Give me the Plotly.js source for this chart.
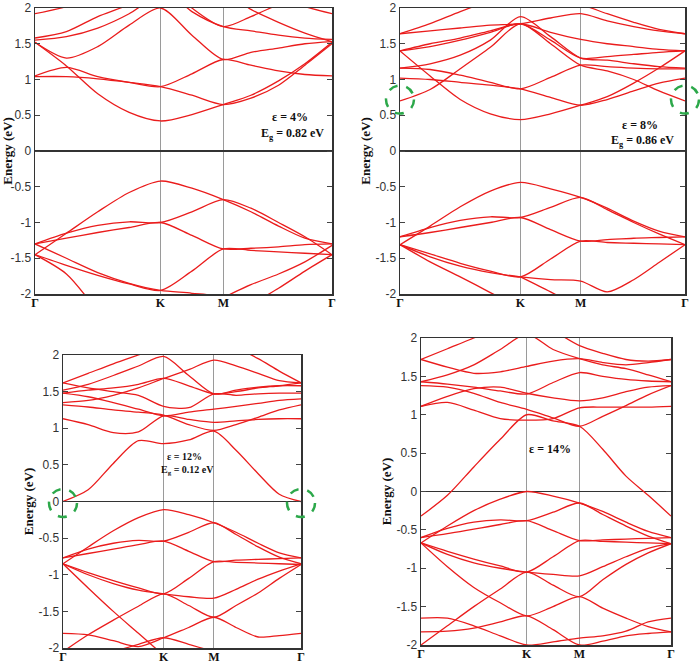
<!DOCTYPE html>
<html>
<head>
<meta charset="utf-8">
<script src="https://cdn.plot.ly/plotly-3.0.1.min.js"></script>
<style>html,body{margin:0;padding:0;background:#fff;}#plot{width:700px;height:666px;}</style>
</head>
<body>
<div id="plot"></div>
<script>
// k-path positions (Γ-K-M-Γ) of the sampled points
const kpath = [0, 0.25, 0.5, 0.75, 1, 1.25, 1.5, 1.72, 1.94, 2.15, 2.366];
const kTickVals = [0, 1, 1.5, 2.366];
const kTickText = ['Γ', 'K', 'M', 'Γ'];
const eTickVals = [-2, -1.5, -1, -0.5, 0, 0.5, 1, 1.5, 2];
const eTickText = ['-2', '-1.5', '-1', '-0.5', '0', '0.5', '1', '1.5', '2'];

// ε = 4 %
const cond4 = [
  [1.52, 1.19, 0.80, 0.54, 0.42, 0.51, 0.65, 0.78, 0.98, 1.22, 1.52],
  [1.04, 1.04, 1.01, 0.96, 0.90, 0.78, 0.65, 0.74, 0.92, 1.20, 1.50],
  [1.05, 1.17, 1.04, 0.96, 0.90, 1.08, 1.28, 1.20, 1.12, 1.07, 1.05],
  [1.52, 1.30, 1.46, 1.76, 2.00, 1.62, 1.28, 1.38, 1.44, 1.50, 1.53],
  [1.58, 1.67, 1.88, 2.05, 2.30, 1.95, 1.74, 1.68, 1.62, 1.58, 1.56],
  [1.55, 1.60, 1.72, 1.92, 2.20, 2.30, 2.25, 1.98, 1.80, 1.65, 1.53],
  [1.92, 2.02, 2.20, 2.40, 2.50, 2.30, 2.20, 2.25, 2.15, 2.02, 1.92],
  [2.40, 2.40, 2.50, 2.50, 2.40, 2.00, 1.74, 1.88, 2.05, 2.20, 2.30]
];
const val4 = [
  [-1.45, -1.15, -0.85, -0.58, -0.42, -0.52, -0.68, -0.85, -1.05, -1.22, -1.30],
  [-1.30, -1.15, -1.04, -0.99, -1.00, -0.85, -0.68, -0.80, -1.00, -1.20, -1.45],
  [-1.30, -1.22, -1.14, -1.07, -1.00, -1.18, -1.37, -1.36, -1.34, -1.31, -1.30],
  [-1.45, -1.60, -1.74, -1.86, -1.95, -1.68, -1.37, -1.39, -1.41, -1.43, -1.45],
  [-1.30, -1.50, -1.70, -1.85, -1.95, -1.99, -2.05, -2.30, -2.50, -2.50, -2.50],
  [-1.45, -1.72, -2.25, null, null, null, -2.05, -1.87, -1.72, -1.55, -1.32],
  [null, null, null, null, null, null, -2.40, -2.15, -1.92, -1.68, -1.45]
];

// ε = 8 %
const cond8 = [
  [1.40, 1.05, 0.72, 0.52, 0.44, 0.52, 0.64, 0.76, 0.95, 1.16, 1.40],
  [0.70, 0.86, 1.15, 1.45, 1.78, 1.50, 1.20, 1.12, 1.00, 0.84, 0.70],
  [1.02, 1.00, 0.96, 0.92, 0.87, 0.75, 0.64, 0.72, 0.84, 0.95, 1.02],
  [1.16, 1.14, 1.06, 0.96, 0.87, 1.03, 1.20, 1.18, 1.16, 1.15, 1.15],
  [1.40, 1.50, 1.58, 1.68, 1.78, 1.66, 1.56, 1.50, 1.46, 1.42, 1.40],
  [1.64, 1.68, 1.72, 1.76, 1.78, 1.86, 1.92, 1.82, 1.74, 1.68, 1.64],
  [1.64, 1.78, 1.95, 2.10, 2.20, 2.15, 2.05, 1.92, 1.80, 1.70, 1.64],
  [1.40, 1.46, 1.55, 1.66, 1.78, 1.55, 1.30, 1.32, 1.35, 1.38, 1.40],
  [1.16, 1.22, 1.34, 1.55, 1.88, 1.60, 1.30, 1.27, 1.22, 1.18, 1.16]
];
const val8 = [
  [-1.31, -1.05, -0.78, -0.56, -0.44, -0.53, -0.65, -0.80, -0.98, -1.12, -1.20],
  [-1.20, -1.07, -0.97, -0.92, -0.93, -0.79, -0.65, -0.82, -1.00, -1.16, -1.31],
  [-1.20, -1.14, -1.07, -1.00, -0.93, -1.10, -1.26, -1.24, -1.22, -1.21, -1.20],
  [-1.31, -1.44, -1.57, -1.68, -1.76, -1.51, -1.26, -1.28, -1.29, -1.30, -1.31],
  [-1.31, -1.48, -1.61, -1.70, -1.76, -1.80, -1.82, -1.97, -1.80, -1.56, -1.31],
  [-1.31, -1.55, -1.76, -1.98, -2.20, null, null, null, null, null, null],
  [null, null, null, null, -1.76, -1.97, -2.20, null, null, null, null]
];

// ε = 12 %
const cond12 = [
  [0.00, 0.16, 0.52, 0.83, 0.79, 0.84, 0.96, 0.70, 0.38, 0.10, 0.00],
  [1.13, 1.05, 0.94, 0.95, 1.17, 1.12, 1.08, 1.10, 1.12, 1.13, 1.13],
  [1.32, 1.29, 1.25, 1.22, 1.18, 1.05, 0.97, 1.05, 1.15, 1.25, 1.32],
  [1.48, 1.43, 1.35, 1.26, 1.17, 1.22, 1.26, 1.30, 1.34, 1.38, 1.40],
  [1.48, 1.52, 1.55, 1.60, 1.68, 1.58, 1.47, 1.50, 1.55, 1.58, 1.62],
  [1.62, 1.75, 1.88, 2.00, 2.12, 2.20, 2.20, 2.10, 1.95, 1.78, 1.62],
  [1.62, 1.55, 1.50, 1.45, 1.30, 1.28, 1.47, 1.45, 1.47, 1.48, 1.48],
  [1.35, 1.38, 1.45, 1.55, 1.68, 1.80, 1.93, 1.85, 1.75, 1.65, 1.62],
  [1.52, 1.60, 1.72, 1.85, 1.98, 1.72, 1.47, 1.52, 1.56, 1.58, 1.58]
];
const val12 = [
  [-0.85, -0.62, -0.40, -0.22, -0.11, -0.18, -0.29, -0.42, -0.57, -0.70, -0.77],
  [-0.77, -0.65, -0.57, -0.53, -0.54, -0.42, -0.29, -0.45, -0.62, -0.76, -0.85],
  [-0.77, -0.71, -0.65, -0.59, -0.54, -0.68, -0.82, -0.80, -0.79, -0.78, -0.77],
  [-0.85, -0.97, -1.08, -1.18, -1.26, -1.05, -0.82, -0.83, -0.84, -0.85, -0.86],
  [-0.85, -1.00, -1.12, -1.21, -1.26, -1.30, -1.32, -1.20, -1.06, -0.95, -0.85],
  [-0.85, -1.18, -1.50, -1.80, -2.10, null, null, null, null, null, null],
  [-2.05, -1.82, -1.62, -1.43, -1.26, -1.42, -1.58, -1.42, -1.25, -1.05, -0.86],
  [-1.80, -1.82, -1.90, -1.98, -1.86, -1.72, -1.58, -1.72, -1.85, -1.83, -1.80],
  [null, null, -2.05, -1.95, -1.86, -1.95, -2.05, null, null, null, null]
];

// ε = 14 %
const cond14 = [
  [-0.32, -0.05, 0.32, 0.68, 1.00, 0.92, 0.85, 0.55, 0.20, -0.05, -0.32],
  [1.11, 1.16, 1.06, 0.95, 0.93, 0.95, 1.09, 1.10, 1.10, 1.10, 1.11],
  [1.11, 1.24, 1.34, 1.36, 1.28, 1.22, 1.18, 1.22, 1.30, 1.36, 1.38],
  [1.38, 1.36, 1.28, 1.16, 1.07, 0.96, 0.85, 0.98, 1.12, 1.26, 1.38],
  [1.43, 1.40, 1.36, 1.31, 1.27, 1.42, 1.55, 1.50, 1.46, 1.44, 1.43],
  [1.72, 1.62, 1.54, 1.56, 1.63, 1.70, 1.73, 1.68, 1.65, 1.68, 1.72],
  [1.72, 1.86, 2.00, 2.15, 2.30, 2.10, 1.90, 1.80, 1.72, 1.70, 1.72],
  [1.43, 1.52, 1.65, 1.85, 2.05, 1.85, 1.73, 1.65, 1.60, 1.52, 1.43]
];
const val14 = [
  [-0.67, -0.45, -0.25, -0.10, 0.00, -0.06, -0.15, -0.26, -0.40, -0.52, -0.60],
  [-0.60, -0.48, -0.40, -0.37, -0.38, -0.27, -0.15, -0.30, -0.45, -0.58, -0.68],
  [-0.60, -0.55, -0.49, -0.43, -0.38, -0.51, -0.64, -0.63, -0.62, -0.61, -0.60],
  [-0.67, -0.78, -0.88, -0.97, -1.05, -0.85, -0.64, -0.65, -0.66, -0.67, -0.68],
  [-0.67, -0.82, -0.93, -1.00, -1.05, -1.08, -1.10, -0.98, -0.85, -0.74, -0.68],
  [-0.67, -0.98, -1.25, -1.45, -1.62, -1.50, -1.37, -1.52, -1.65, -1.76, -1.83],
  [-2.00, -1.75, -1.50, -1.27, -1.05, -1.22, -1.37, -1.15, -0.95, -0.80, -0.68],
  [-1.65, -1.65, -1.75, -1.88, -2.00, -1.96, -1.91, -1.88, -1.82, -1.70, -1.65],
  [-1.83, -1.82, -1.78, -1.70, -1.62, -1.80, -2.00, -1.95, -1.88, -1.85, -1.83]
];

const strainLabels = ['ε = 4%', 'ε = 8%', 'ε = 12%', 'ε = 14%'];
const gapLabels = ['E<sub>g</sub> = 0.82 eV', 'E<sub>g</sub> = 0.86 eV', 'E<sub>g</sub> = 0.12 eV', ''];
const circleEnergy = [null, 0.72, -0.02, null];

const W = 700, H = 666;
// panel boxes in pixels: [left, right, top, bottom]
const boxes = [
  [35, 332, 8, 294],
  [400, 685, 8, 294],
  [63, 301, 355, 648],
  [421, 671, 338, 645]
];
const labelPos = [ // pixel centres of strain / gap labels and font sizes
  [290, 117, 292, 134, 12],
  [640, 125, 642, 141, 12],
  [184, 456, 187, 470, 10],
  [550, 449, 0, 0, 12]
];

const panels = [[cond4, val4], [cond8, val8], [cond12, val12], [cond14, val14]];
const traces = [];
const layout = {
  width: W, height: H,
  margin: {l: 0, r: 0, t: 0, b: 0},
  paper_bgcolor: '#fff', plot_bgcolor: '#fff',
  showlegend: false,
  annotations: [], shapes: []
};

panels.forEach((p, i) => {
  const n = i === 0 ? '' : String(i + 1);
  [...p[0], ...p[1]].forEach(band => {
    traces.push({
      x: kpath, y: band, type: 'scatter', mode: 'lines',
      xaxis: 'x' + n, yaxis: 'y' + n, hoverinfo: 'skip',
      line: {color: '#ea1c1c', width: 1.3, shape: 'spline', smoothing: 0.8}
    });
  });
  const b = boxes[i];
  const xd = [b[0] / W, b[1] / W];
  const yd = [1 - b[3] / H, 1 - b[2] / H];
  layout['xaxis' + n] = {
    domain: xd, range: [0, 2.366], anchor: 'y' + n,
    tickvals: kTickVals, ticktext: kTickText, ticks: '',
    ticklabelstandoff: -3, ticklabeloverflow: 'allow',
    showgrid: true, gridcolor: '#9a9a9a', gridwidth: 1,
    showline: true, mirror: true, linecolor: '#333', linewidth: 1.5,
    zeroline: false, automargin: false,
    tickfont: {family: 'Liberation Serif', size: 12, color: '#111', weight: 'bold'}
  };
  layout['yaxis' + n] = {
    domain: yd, range: [-2, 2], anchor: 'x' + n,
    tickvals: eTickVals, ticktext: eTickText, ticklabeloverflow: 'allow',
    ticks: 'inside', ticklen: 5, tickcolor: '#444', mirror: 'ticks',
    showline: true, linecolor: '#333', linewidth: 1.5,
    showgrid: false, zeroline: true, zerolinecolor: '#333', zerolinewidth: 1.5,
    automargin: false,
    tickfont: {family: 'Liberation Sans', size: 12, color: '#333'},
    title: {text: 'Energy (eV)', standoff: 2,
      font: {family: 'Liberation Serif', size: 13, color: '#111', weight: 'bold'}}
  };
  const lp = labelPos[i];
  layout.annotations.push({
    xref: 'paper', yref: 'paper', x: lp[0] / W, y: 1 - lp[1] / H,
    text: strainLabels[i], showarrow: false, xanchor: 'center', yanchor: 'middle',
    font: {family: 'Liberation Serif', size: lp[4], color: '#111', weight: 'bold'}
  });
  if (gapLabels[i]) {
    layout.annotations.push({
      xref: 'paper', yref: 'paper', x: lp[2] / W, y: 1 - lp[3] / H,
      text: gapLabels[i], showarrow: false, xanchor: 'center', yanchor: 'middle',
      font: {family: 'Liberation Serif', size: lp[4], color: '#111', weight: 'bold'}
    });
  }
  if (circleEnergy[i] !== null) {
    const yc = yd[0] + (circleEnergy[i] + 2) / 4 * (yd[1] - yd[0]);
    [xd[0], xd[1]].forEach(xc => {
      layout.shapes.push({
        type: 'circle', xref: 'paper', yref: 'paper',
        xsizemode: 'pixel', ysizemode: 'pixel', xanchor: xc, yanchor: yc,
        x0: -14, x1: 14, y0: -14, y1: 14,
        line: {color: '#2ca84a', width: 2.5, dash: 'dash'}, layer: 'above'
      });
    });
  }
});

Plotly.newPlot('plot', traces, layout, {displayModeBar: false, staticPlot: true});
</script>
</body>
</html>
